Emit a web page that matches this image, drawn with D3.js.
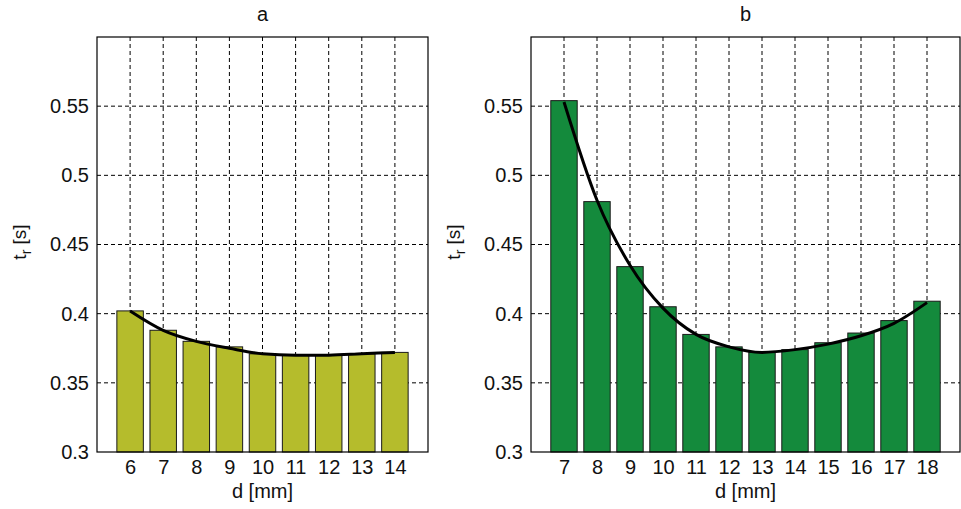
<!DOCTYPE html>
<html>
<head>
<meta charset="utf-8">
<style>
    body { margin: 0; background: #fff; }
    svg { font-family: "Liberation Sans", Arial, sans-serif; }
    .tick text { font-size: 20px; fill: #111; }
    .grid line { stroke: #000; stroke-width: 1; stroke-dasharray: 4,3; }
    .frame { fill: none; stroke: #000; stroke-width: 1.2; }
    .bar { stroke: #1a1a1a; stroke-width: 1; }
    .fit { fill: none; stroke: #000; stroke-width: 3; }
    .title, .xlabel { font-size: 20px; fill: #111; text-anchor: middle; }
    .ylabel { font-size: 19px; fill: #111; text-anchor: middle; }
</style>
</head>
<body>
<svg width="961" height="509"></svg>
<script src="https://d3js.org/d3.v7.min.js"></script>
<script>
// panel a
let dA = [6, 7, 8, 9, 10, 11, 12, 13, 14];
let tA = [0.402, 0.388, 0.380, 0.376, 0.371, 0.370, 0.370, 0.371, 0.372];
let fitA = [0.402, 0.388, 0.380, 0.375, 0.371, 0.370, 0.370, 0.371, 0.372];

// panel b
let dB = [7, 8, 9, 10, 11, 12, 13, 14, 15, 16, 17, 18];
let tB = [0.554, 0.481, 0.434, 0.405, 0.385, 0.376, 0.372, 0.374, 0.379, 0.386, 0.395, 0.409];
let fitB = [0.553, 0.482, 0.435, 0.404, 0.385, 0.376, 0.372, 0.374, 0.378, 0.384, 0.393, 0.408];

let yTicks = [0.3, 0.35, 0.4, 0.45, 0.5, 0.55];
let yTickLabels = ["0.3", "0.35", "0.4", "0.45", "0.5", "0.55"];

let svg = d3.select("svg");

function panel(opts) {
    let x = d3.scaleLinear().domain(opts.xDomain).range([opts.left, opts.right]);
    let y = d3.scaleLinear().domain([0.3, 0.6]).range([452, 37]);
    let g = svg.append("g");

    // grid
    let grid = g.append("g").attr("class", "grid");
    grid.selectAll(".gx").data(opts.d).join("line")
        .attr("x1", d => x(d)).attr("x2", d => x(d))
        .attr("y1", y(0.6)).attr("y2", y(0.3));
    grid.selectAll(".gy").data(yTicks.slice(1)).join("line")
        .attr("class", "gy")
        .attr("x1", x.range()[0]).attr("x2", x.range()[1])
        .attr("y1", d => y(d)).attr("y2", d => y(d));

    // bars
    g.append("g").selectAll("rect").data(opts.d).join("rect")
        .attr("class", "bar")
        .attr("x", d => x(d - 0.4))
        .attr("width", d => x(d + 0.4) - x(d - 0.4))
        .attr("y", (d, i) => y(opts.t[i]))
        .attr("height", (d, i) => y(0.3) - y(opts.t[i]))
        .attr("fill", opts.color);

    // fitted curve
    let line = d3.line()
        .x((d, i) => x(opts.d[i]))
        .y(d => y(d))
        .curve(d3.curveMonotoneX);
    g.append("path").attr("class", "fit").attr("d", line(opts.fit));

    // frame
    g.append("rect").attr("class", "frame")
        .attr("x", x.range()[0]).attr("y", y(0.6))
        .attr("width", x.range()[1] - x.range()[0])
        .attr("height", y(0.3) - y(0.6));

    // axes
    g.append("g")
        .attr("transform", `translate(0,${y(0.3)})`)
        .call(d3.axisBottom(x).tickValues(opts.d).tickSize(0).tickPadding(8).tickFormat(d3.format("d")))
        .call(a => a.select(".domain").remove());
    g.append("g")
        .attr("transform", `translate(${x.range()[0]},0)`)
        .call(d3.axisLeft(y).tickValues(yTicks).tickSize(0).tickPadding(8).tickFormat((d, i) => yTickLabels[i]))
        .call(a => a.select(".domain").remove());

    let cx = (x.range()[0] + x.range()[1]) / 2;
    g.append("text").attr("class", "title").attr("x", cx).attr("y", 21).text(opts.title);
    g.append("text").attr("class", "xlabel").attr("x", cx).attr("y", 498).text("d [mm]");

    let yl = g.append("text").attr("class", "ylabel")
        .attr("transform", `translate(${x.range()[0] - 71},242) rotate(-90)`);
    yl.append("tspan").text("t");
    yl.append("tspan").attr("dy", 5).attr("font-size", 14).text("r");
    yl.append("tspan").attr("dy", -5).text(" [s]");
}

panel({ d: dA, t: tA, fit: fitA, xDomain: [5, 15], left: 97, right: 428, color: "#b5bc2c", title: "a" });
panel({ d: dB, t: tB, fit: fitB, xDomain: [6, 19], left: 531, right: 960, color: "#148a3c", title: "b" });
</script>
</body>
</html>
